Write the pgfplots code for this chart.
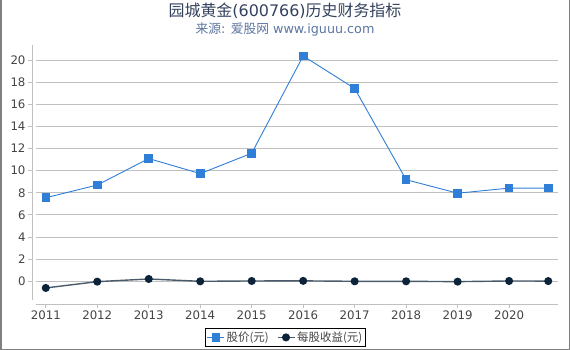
\documentclass[border=0pt]{standalone}
\usepackage{fontspec}
\setmainfont{DejaVu Sans}
\newfontfamily\cjk{Noto Sans CJK SC}
\usepackage{pgfplots}
\pgfplotsset{compat=1.18}
\definecolor{sblue}{HTML}{2F7ED8}
\definecolor{snavy}{HTML}{0D233A}
\definecolor{gridc}{HTML}{C0C0C0}
\definecolor{titlec}{HTML}{34425E}
\definecolor{subc}{HTML}{5B75A0}
\definecolor{labc}{HTML}{444444}
\definecolor{framec}{HTML}{808080}
\begin{document}
\begin{tikzpicture}
\useasboundingbox (0bp,0bp) rectangle (570bp,350bp);
\draw[framec, line width=1.5bp] (0.75bp,350bp) -- (0.75bp,0.75bp) -- (569.25bp,0.75bp) -- (569.25bp,350bp);
\node[text=titlec, font=\fontsize{16}{18}\selectfont, anchor=center] at (285bp,339bp) {{\cjk 园城黄金}(600766){\cjk 历史财务指标}};
\node[text=subc, font=\fontsize{12.8}{14}\selectfont, anchor=center] at (285bp,321bp) {{\cjk 来源}: {\cjk 爱股网} www.iguuu.com};
\begin{axis}[
  at={(36bp,46bp)}, anchor=south west, scale only axis,
  width=522bp, height=259bp,
  xmin=2010.81, xmax=2020.95, ymin=-2.05, ymax=21.35,
  axis line style={draw=none},
  major tick style={draw=none},
  xtick={2011,2012,...,2020},
  ytick={0,2,...,20},
  xticklabel={\pgfmathprintnumber[1000 sep={}]{\tick}},
  yticklabel={\pgfmathprintnumber{\tick}},
  ymajorgrids, major grid style={gridc, line width=0.8bp},
  ticklabel style={text=labc, font=\fontsize{11.8}{13}\selectfont},
  yticklabel style={xshift=-7bp},
  xticklabel style={yshift=-3bp},
  /pgf/number format/assume math mode=true,
  clip=false,
  legend columns=2,
  legend style={at={(0.478,-0.129)}, anchor=center, draw=black, line width=0.6bp,
    font=\cjk\fontsize{11.5}{13}\selectfont, text=labc, inner sep=1.5bp,
    /tikz/every even column/.append style={column sep=6bp}},
]
\draw[gridc, line width=0.8bp] (axis cs:2010.81,-2.05) -- (axis cs:2020.95,-2.05);
\draw[gridc, line width=0.8bp] ([xshift=-4bp]axis cs:2010.81,-1.69) -- ([xshift=-4bp]axis cs:2010.81,21.35);
\pgfplotsinvokeforeach{0,2,...,20}{
  \draw[gridc, line width=0.8bp] ([xshift=-8bp]axis cs:2010.81,#1) -- ([xshift=-4bp]axis cs:2010.81,#1);
}
\pgfplotsinvokeforeach{2011,2012,...,2020}{
  \draw[gridc, line width=0.8bp] (axis cs:#1,-2.05) -- ([yshift=-4bp]axis cs:#1,-2.05);
}
\addplot[sblue, line width=0.9bp, mark=square*, mark size=3.8bp, mark options={solid}] coordinates {
  (2011,7.55)(2012,8.70)(2013,11.09)(2014,9.73)(2015,11.57)(2016,20.36)
  (2017,17.42)(2018,9.18)(2019,7.96)(2020,8.42)(2020.76,8.42)};
\addlegendentry{股价(元)}
\addplot[snavy!75!white, line width=1.4bp, mark=*, mark size=3.3bp, mark options={solid, fill=snavy, draw=snavy}] coordinates {
  (2011,-0.60)(2012,-0.03)(2013,0.21)(2014,0.00)(2015,0.03)(2016,0.04)
  (2017,0.00)(2018,0.00)(2019,-0.03)(2020,0.03)(2020.76,0.02)};
\addlegendentry{每股收益(元)}
\end{axis}
\end{tikzpicture}
\end{document}
